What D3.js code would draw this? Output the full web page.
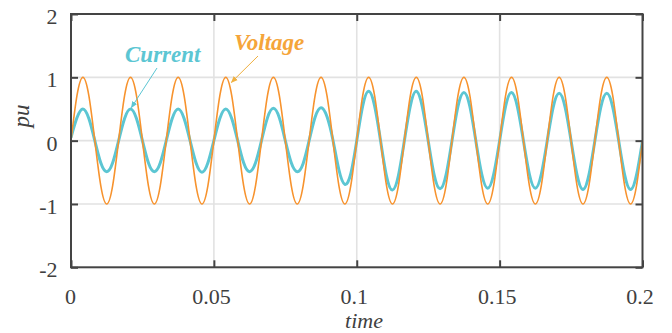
<!DOCTYPE html>
<html>
<head>
<meta charset="utf-8">
<script src="https://cdn.jsdelivr.net/npm/d3@7"></script>
</head>
<body style="margin:0">
<svg id="chart" width="672" height="333" style="display:block"></svg>
<script>
// ---- data ----
const timeStep = 1 / 480;            // sample spacing (s), 8 samples per 60 Hz cycle
const voltage = [
  0, 0.71, 1, 0.71, 0, -0.71, -1, -0.71,
  0, 0.71, 1, 0.71, 0, -0.71, -1, -0.71,
  0, 0.71, 1, 0.71, 0, -0.71, -1, -0.71,
  0, 0.71, 1, 0.71, 0, -0.71, -1, -0.71,
  0, 0.71, 1, 0.71, 0, -0.71, -1, -0.71,
  0, 0.71, 1, 0.71, 0, -0.71, -1, -0.71,
  0, 0.71, 1, 0.71, 0, -0.71, -1, -0.71,
  0, 0.71, 1, 0.71, 0, -0.71, -1, -0.71,
  0, 0.71, 1, 0.71, 0, -0.71, -1, -0.71,
  0, 0.71, 1, 0.71, 0, -0.71, -1, -0.71,
  0, 0.71, 1, 0.71, 0, -0.71, -1, -0.71,
  0, 0.71, 1, 0.71, 0, -0.71, -1, -0.71,
  0
];
const current = [
  0.05, 0.36, 0.50, 0.35, 0, -0.35, -0.49, -0.35,
  0, 0.35, 0.50, 0.35, 0, -0.35, -0.49, -0.35,
  0, 0.35, 0.50, 0.35, 0, -0.35, -0.50, -0.35,
  0, 0.35, 0.50, 0.35, 0, -0.35, -0.49, -0.35,
  0, 0.36, 0.51, 0.36, 0, -0.35, -0.49, -0.36,
  0, 0.37, 0.52, 0.38, 0.01, -0.46, -0.69, -0.52,
  0, 0.55, 0.78, 0.55, 0, -0.56, -0.78, -0.55,
  0, 0.55, 0.78, 0.54, 0, -0.54, -0.76, -0.54,
  0, 0.54, 0.76, 0.54, 0, -0.53, -0.75, -0.53,
  0, 0.54, 0.76, 0.53, 0, -0.53, -0.75, -0.53,
  0, 0.53, 0.75, 0.53, 0, -0.54, -0.77, -0.54,
  0, 0.53, 0.75, 0.53, 0, -0.54, -0.77, -0.54,
  0
];
const xTicks = [0, 0.05, 0.1, 0.15, 0.2];
const xTickLabels = ["0", "0.05", "0.1", "0.15", "0.2"];
const yTicks = [-2, -1, 0, 1, 2];
const yTickLabels = ["-2", "-1", "0", "1", "2"];
const xLabel = "time";
const yLabel = "pu";
const seriesNames = ["Current", "Voltage"];

// ---- layout ----
const svg = d3.select("#chart");
const pL = 71, pR = 642.5, pT = 14, pB = 267.3;
const x = d3.scaleLinear().domain([0, 0.2]).range([pL, pR]);
const y = d3.scaleLinear().domain([-2, 2]).range([pB, pT]);
const axisColor = "#444444";
const textColor = "#404040";
const gridColor = "#e2e2e2";
const voltColor = "#f7932e";
const currColor = "#5cc6d3";
const font = '"Liberation Serif"';

// grid
svg.append("g").selectAll("line").data(xTicks.slice(1, -1)).join("line")
  .attr("x1", d => x(d)).attr("x2", d => x(d)).attr("y1", pT).attr("y2", pB)
  .attr("stroke", gridColor).attr("stroke-width", 1.6);
svg.append("g").selectAll("line").data(yTicks.slice(1, -1)).join("line")
  .attr("x1", pL).attr("x2", pR).attr("y1", d => y(d)).attr("y2", d => y(d))
  .attr("stroke", gridColor).attr("stroke-width", 1.6);

// clip
svg.append("clipPath").attr("id", "clip").append("rect")
  .attr("x", pL).attr("y", pT).attr("width", pR - pL).attr("height", pB - pT);

const line = d3.line()
  .x((d, i) => x(i * timeStep))
  .y(d => y(d))
  .curve(d3.curveNatural);

const plot = svg.append("g").attr("clip-path", "url(#clip)");
plot.append("path").datum(current).attr("d", line)
  .attr("fill", "none").attr("stroke", currColor).attr("stroke-width", 3)
  .attr("stroke-linejoin", "round");
plot.append("path").datum(voltage).attr("d", line)
  .attr("fill", "none").attr("stroke", voltColor).attr("stroke-width", 1.6);

// axes (box with inward ticks)
const axG = svg.append("g");
const tickLen = 7;
const axB = d3.axisBottom(x).tickValues(xTicks).tickSize(-tickLen).tickFormat((d, i) => xTickLabels[i]);
const axT = d3.axisTop(x).tickValues(xTicks).tickSize(-tickLen).tickFormat("");
const axL = d3.axisLeft(y).tickValues(yTicks).tickSize(-tickLen).tickFormat((d, i) => yTickLabels[i]);
const axR = d3.axisRight(y).tickValues(yTicks).tickSize(-tickLen).tickFormat("");

function styleAxis(g) {
  g.attr("font-family", null).attr("font-size", null);
  g.selectAll(".domain").remove();
  g.selectAll(".tick line").attr("stroke", axisColor).attr("stroke-width", 2);
  g.selectAll(".tick text").attr("fill", textColor).style("font-family", font).style("font-size", "22px");
}
const gB = axG.append("g").attr("transform", `translate(0,${pB})`).call(axB).call(styleAxis);
gB.selectAll(".tick text").attr("y", 0).attr("dy", 0)
  .attr("transform", (d, i) => `translate(${i === 0 ? -1 : -3},${303.5 - pB})`);
axG.append("g").attr("transform", `translate(0,${pT})`).call(axT).call(styleAxis);
const gL = axG.append("g").attr("transform", `translate(${pL},0)`).call(axL).call(styleAxis);
gL.selectAll(".tick text").attr("x", 57.5 - pL).attr("dy", 0).attr("y", 9.5).attr("text-anchor", "end");
axG.append("g").attr("transform", `translate(${pR},0)`).call(axR).call(styleAxis);

svg.append("rect").attr("x", pL).attr("y", pT).attr("width", pR - pL).attr("height", pB - pT)
  .attr("fill", "none").attr("stroke", axisColor).attr("stroke-width", 2);

// axis labels
svg.append("text").attr("x", 364).attr("y", 328).attr("text-anchor", "middle")
  .attr("fill", textColor).style("font-family", font).style("font-size", "22px").style("font-style", "italic")
  .text(xLabel);
svg.append("text").attr("transform", "translate(29,116) rotate(-90)").attr("text-anchor", "middle")
  .attr("fill", textColor).style("font-family", font).style("font-size", "23px").style("font-style", "italic")
  .text(yLabel);

// annotations
const defs = svg.append("defs");
function marker(id, color) {
  defs.append("marker").attr("id", id).attr("viewBox", "0 0 10 10").attr("refX", 9).attr("refY", 5)
    .attr("markerWidth", 7).attr("markerHeight", 7).attr("orient", "auto-start-reverse")
    .attr("markerUnits", "userSpaceOnUse")
    .append("path").attr("d", "M0,1 L10,5 L0,9 Z").attr("fill", color);
}
marker("arrC", currColor);
marker("arrV", "#f0b040");

svg.append("text").attr("x", 125).attr("y", 62).attr("fill", currColor)
  .style("font-family", font).style("font-size", "23px").style("font-style", "italic").style("font-weight", "bold")
  .text(seriesNames[0]);
svg.append("text").attr("x", 234).attr("y", 50).attr("fill", "#f5a53a")
  .style("font-family", font).style("font-size", "23px").style("font-style", "italic").style("font-weight", "bold")
  .text(seriesNames[1]);

svg.append("line").attr("x1", 157).attr("y1", 68).attr("x2", x(0.0211)).attr("y2", y(0.52))
  .attr("stroke", currColor).attr("stroke-width", 1).attr("marker-end", "url(#arrC)");
svg.append("line").attr("x1", 258).attr("y1", 56).attr("x2", x(0.0561)).attr("y2", y(0.92))
  .attr("stroke", "#f0b040").attr("stroke-width", 1).attr("marker-end", "url(#arrV)");
</script>
</body>
</html>
